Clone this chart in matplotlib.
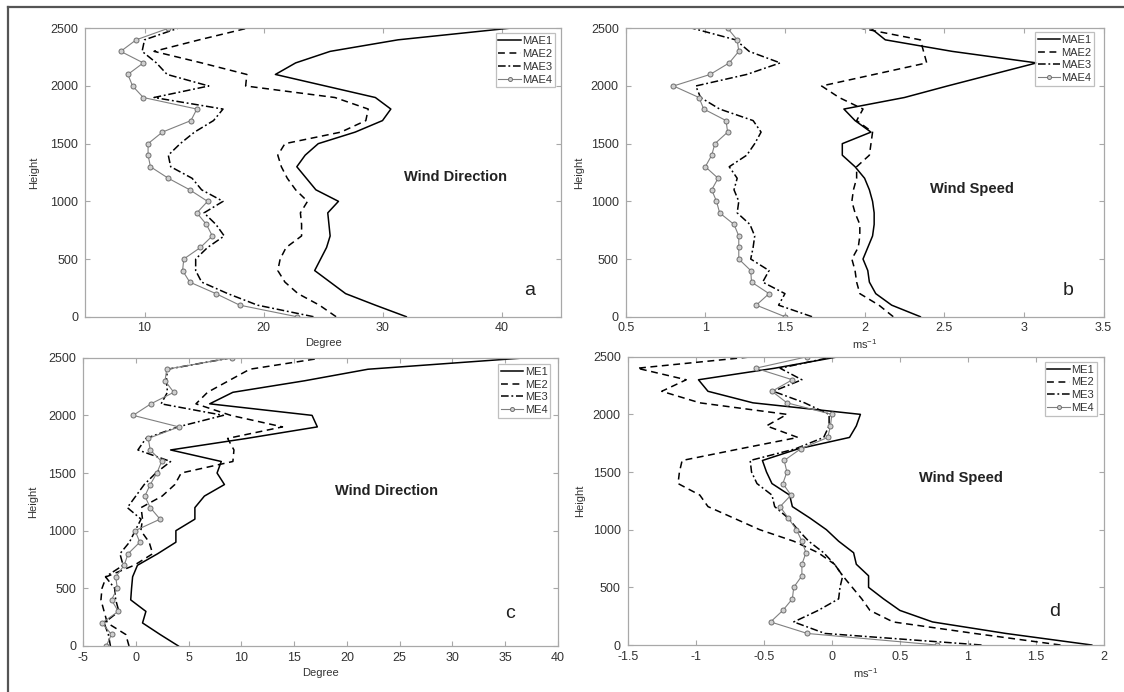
import matplotlib
matplotlib.use("Agg")
import matplotlib.pyplot as plt
from matplotlib.lines import Line2D

plt.rcParams['font.family'] = ['Liberation Sans', 'DejaVu Sans']
plt.rcParams['mathtext.default'] = 'regular'

# ---------------- data ----------------
heights = [0, 100, 200, 300, 400, 500, 600, 700, 800, 900, 1000, 1100, 1200,
           1300, 1400, 1500, 1600, 1700, 1800, 1900, 2000, 2100, 2200, 2300, 2400, 2500]

# panel a: wind direction MAE (degree)
a_mae1 = [32.0, 29.4, 26.9, 25.6, 24.3, 24.8, 25.3, 25.6, 25.5, 25.4, 26.3, 24.4, 23.6,
          22.8, 23.5, 24.6, 27.7, 30.0, 30.7, 29.4, 25.2, 21.0, 22.7, 25.6, 31.3, 40.6]
a_mae2 = [26.1, 24.7, 22.9, 21.8, 21.2, 21.4, 21.9, 23.2, 23.2, 23.1, 23.7, 22.7, 22.0,
          21.5, 21.2, 21.8, 26.5, 28.6, 28.8, 26.0, 18.5, 18.6, 14.8, 10.8, 14.6, 18.6]
a_mae3 = [24.2, 19.5, 17.0, 14.8, 14.3, 14.3, 15.3, 16.7, 16.0, 15.0, 16.6, 14.8, 14.0,
          12.2, 12.0, 13.0, 14.2, 15.8, 16.6, 10.8, 15.4, 11.9, 11.0, 9.8, 10.0, 12.8]
a_mae4 = [22.8, 18.0, 16.0, 13.8, 13.2, 13.3, 14.7, 15.7, 15.2, 14.4, 15.3, 13.8, 12.0,
          10.5, 10.3, 10.3, 11.5, 13.9, 14.4, 9.9, 9.0, 8.6, 9.9, 8.0, 9.3, 12.0]

# panel b: wind speed MAE (m/s)
b_mae1 = [2.35, 2.17, 2.07, 2.03, 2.02, 1.99, 2.02, 2.05, 2.06, 2.06, 2.05, 2.03, 2.00,
          1.94, 1.86, 1.86, 2.04, 1.94, 1.87, 2.25, 2.52, 2.80, 3.08, 2.55, 2.13, 2.04]
b_mae2 = [2.18, 2.09, 1.97, 1.95, 1.94, 1.92, 1.96, 1.97, 1.97, 1.94, 1.92, 1.93, 1.95,
          1.95, 2.03, 2.04, 2.05, 1.95, 1.99, 1.84, 1.73, 2.06, 2.39, 2.37, 2.35, 1.98]
b_mae3 = [1.67, 1.46, 1.50, 1.36, 1.40, 1.285, 1.30, 1.31, 1.28, 1.20, 1.21, 1.18, 1.20,
          1.15, 1.26, 1.31, 1.35, 1.30, 1.09, 0.97, 0.94, 1.26, 1.47, 1.275, 1.19, 0.92]
b_mae4 = [1.50, 1.32, 1.40, 1.29, 1.285, 1.21, 1.21, 1.21, 1.18, 1.09, 1.07, 1.04, 1.08,
          1.00, 1.04, 1.06, 1.14, 1.13, 0.99, 0.96, 0.80, 1.03, 1.15, 1.21, 1.20, 1.14]

# panel c: wind direction ME (degree)
c_me1 = [4.04, 2.3, 0.64, 0.96, -0.48, -0.4, -0.3, 0.16, 2.07, 3.8, 3.8, 5.6, 5.6,
         6.5, 8.4, 7.7, 8.1, 3.3, 10.5, 17.2, 16.7, 7.0, 9.2, 16.0, 22.0, 37.1]
c_me2 = [-0.64, -0.95, -2.7, -3.0, -3.3, -3.2, -2.8, -0.15, 1.6, 1.27, 0.48, 0.64, 0.5,
         2.5, 3.7, 4.3, 9.2, 9.3, 8.7, 13.9, 9.0, 5.7, 6.8, 8.8, 10.8, 17.8]
c_me3 = [-2.4, -2.6, -3.0, -1.6, -1.9, -2.0, -2.87, -1.2, -1.5, -0.6, -0.06, 0.5, -0.8,
         0.0, 0.8, 1.9, 3.3, 0.2, 0.96, 4.0, 8.3, 2.4, 3.0, 2.9, 3.0, 9.1]
c_me4 = [-2.8, -2.3, -3.2, -1.66, -2.3, -1.75, -1.9, -1.1, -0.73, 0.38, -0.06, 2.3, 1.37,
         0.86, 1.37, 2.0, 2.45, 1.37, 1.18, 4.08, -0.25, 1.43, 3.6, 2.77, 2.93, 9.14]

# panel d: wind speed ME (m/s)
d_me1 = [1.91, 1.28, 0.74, 0.5, 0.38, 0.27, 0.27, 0.18, 0.16, 0.05, -0.04, -0.16, -0.29,
         -0.31, -0.44, -0.48, -0.51, -0.25, 0.13, 0.18, 0.21, -0.58, -0.91, -0.98, -0.42, 0.05]
d_me2 = [1.68, 1.05, 0.45, 0.28, 0.22, 0.15, 0.08, 0.02, -0.1, -0.28, -0.53, -0.72, -0.91,
         -0.97, -1.13, -1.12, -1.10, -0.68, -0.25, -0.48, -0.33, -0.97, -1.25, -1.07, -1.43, -0.58]
d_me3 = [1.1, -0.05, -0.28, -0.1, 0.05, 0.06, 0.08, 0.02, -0.06, -0.17, -0.25, -0.32, -0.42,
         -0.44, -0.55, -0.59, -0.6, -0.27, -0.06, -0.02, -0.02, -0.2, -0.43, -0.22, -0.38, 0.01]
d_me4 = [0.77, -0.18, -0.45, -0.36, -0.29, -0.28, -0.22, -0.22, -0.19, -0.22, -0.26, -0.32, -0.38,
         -0.30, -0.36, -0.33, -0.35, -0.23, -0.03, -0.01, 0.0, -0.33, -0.44, -0.29, -0.56, -0.18]

yticks = [0, 500, 1000, 1500, 2000, 2500]
a_xticks = [10, 20, 30, 40]
b_xticks = [0.5, 1, 1.5, 2, 2.5, 3, 3.5]
c_xticks = [-5, 0, 5, 10, 15, 20, 25, 30, 35, 40]
d_xticks = [-1.5, -1, -0.5, 0, 0.5, 1, 1.5, 2]

# ---------------- figure ----------------
W, H = 1124, 692
fig = plt.figure(figsize=(W / 100, H / 100), dpi=100)


def px_axes(x0, y0, x1, y1):
    return fig.add_axes([x0 / W, 1 - y1 / H, (x1 - x0) / W, (y1 - y0) / H])


SPINE = '#a8a8a8'
TXT = '#333333'
GRAY = '#808080'

styles = [dict(color='black', lw=1.1, ls='-'),
          dict(color='black', lw=1.1, ls=(0, (4.5, 3))),
          dict(color='black', lw=1.1, ls=(0, (5, 1.8, 1.2, 1.8))),
          dict(color=GRAY, lw=0.8, ls='-', marker='o', ms=3.6, mfc='#cfcfcf', mec='#6f6f6f', mew=0.7)]


def setup(ax, series, names, xlim, xticks, xlabel, title, title_xy, letter, letter_xy,
          leg_anchor, ylab_x, xlab_y):
    for vals, name, st in zip(series, names, styles):
        ax.plot(vals, heights, label=name, **st)
    ax.set_xlim(*xlim)
    ax.set_ylim(0, 2500)
    ax.set_xticks(xticks)
    ax.set_xticklabels([('%g' % t) for t in xticks])
    ax.set_yticks(yticks)
    for s in ax.spines.values():
        s.set_color(SPINE)
        s.set_linewidth(0.9)
    ax.tick_params(direction='in', top=True, right=True, length=3.5, width=0.8,
                   color=SPINE, labelsize=9, labelcolor=TXT, pad=4)
    ax.tick_params(axis='y', pad=5)
    ax.set_ylabel('Height', fontsize=8, color=TXT)
    ax.yaxis.set_label_coords(ylab_x, 0.5)
    ax.set_xlabel(xlabel, fontsize=8, color=TXT)
    ax.xaxis.set_label_coords(0.5, xlab_y)
    ax.text(title_xy[0], title_xy[1], title, transform=ax.transAxes, fontsize=10.5,
            fontweight='bold', color='#222222', ha='center', va='center')
    ax.text(letter_xy[0], letter_xy[1], letter, transform=ax.transAxes, fontsize=14,
            color='#222222', ha='center', va='center')
    leg = ax.legend(loc='upper right', bbox_to_anchor=leg_anchor, borderaxespad=0,
                    fontsize=8, frameon=True, fancybox=False, handlelength=2.0,
                    handletextpad=0.15, labelspacing=0.25, borderpad=0.25,
                    markerscale=0.8)
    leg.get_frame().set_edgecolor('#b0b0b0')
    leg.get_frame().set_linewidth(0.9)
    for t in leg.get_texts():
        t.set_color(TXT)


ax_a = px_axes(85, 28.3, 561, 316.7)
setup(ax_a, [a_mae1, a_mae2, a_mae3, a_mae4], ['MAE1', 'MAE2', 'MAE3', 'MAE4'],
      (5, 45), a_xticks, 'Degree', 'Wind Direction', (0.779, 0.484), 'a', (0.935, 0.092),
      (0.988, 0.982), -0.097, -0.075)

ax_b = px_axes(625.7, 28.3, 1103.5, 316.7)
setup(ax_b, [b_mae1, b_mae2, b_mae3, b_mae4], ['MAE1', 'MAE2', 'MAE3', 'MAE4'],
      (0.5, 3.5), b_xticks, 'ms$^{-1}$', 'Wind Speed', (0.724, 0.443), 'b', (0.926, 0.092),
      (0.981, 0.987), -0.087, -0.07)

ax_c = px_axes(83, 357.7, 558, 646)
setup(ax_c, [c_me1, c_me2, c_me3, c_me4], ['ME1', 'ME2', 'ME3', 'ME4'],
      (-5, 40), c_xticks, 'Degree', 'Wind Direction', (0.639, 0.539), 'c', (0.899, 0.111),
      (0.984, 0.978), -0.095, -0.075)

ax_d = px_axes(627.7, 356.7, 1104, 645)
setup(ax_d, [d_me1, d_me2, d_me3, d_me4], ['ME1', 'ME2', 'ME3', 'ME4'],
      (-1.5, 2), d_xticks, 'ms$^{-1}$', 'Wind Speed', (0.699, 0.578), 'd', (0.897, 0.115),
      (0.985, 0.982), -0.09, -0.075)

# outer frame lines (left and top)
fig.add_artist(Line2D([8 / W, 8 / W], [0, 1 - 7 / H], transform=fig.transFigure,
                      color='#555555', lw=1.6))
fig.add_artist(Line2D([8 / W, 1], [1 - 7 / H, 1 - 7 / H], transform=fig.transFigure,
                      color='#555555', lw=1.6))

fig.savefig('out.png', dpi=100)
